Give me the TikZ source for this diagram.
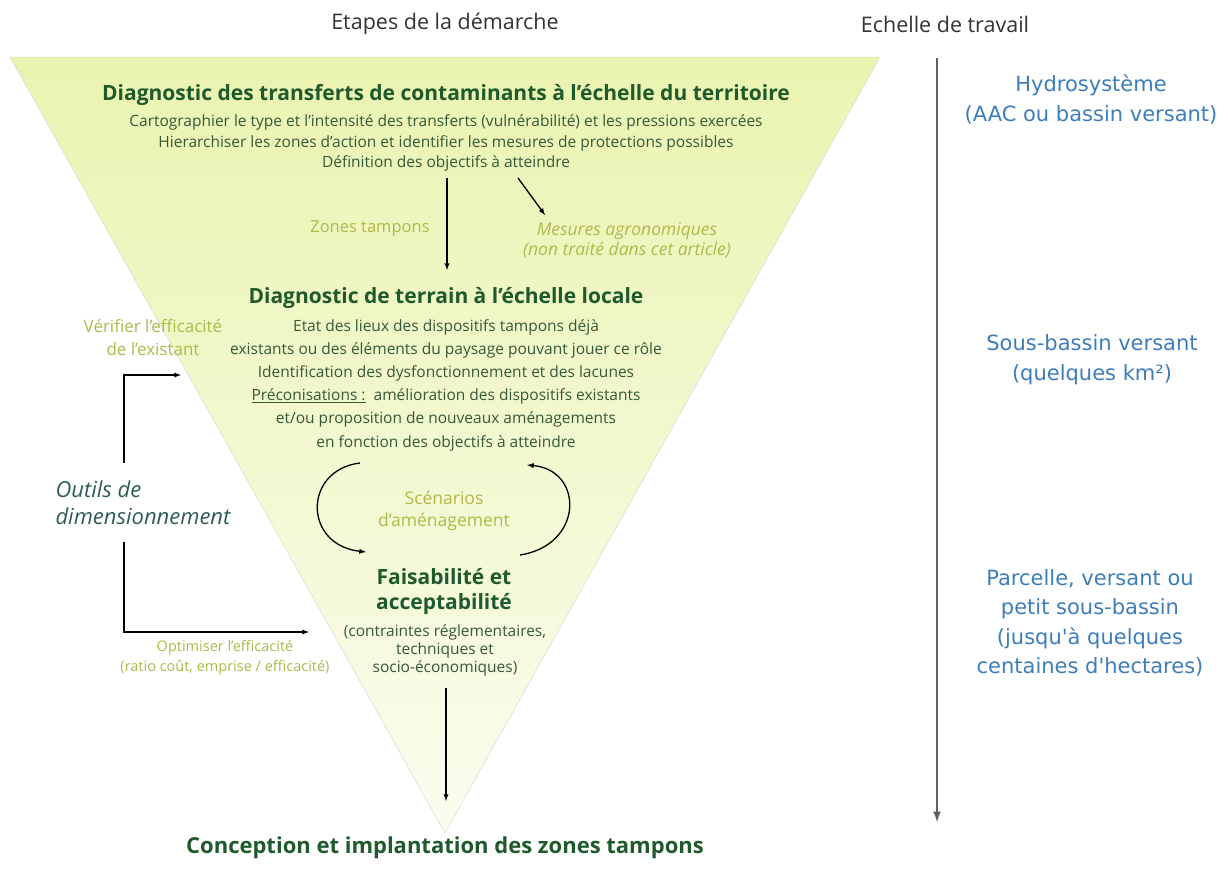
\documentclass[tikz,border=0pt]{standalone}
\usepackage{fontspec}
\setmainfont{Open Sans}
\newfontfamily\bluefont{DejaVu Sans}
\usetikzlibrary{arrows}
\definecolor{darkgreen}{HTML}{1F5A2C}
\definecolor{textgreen}{HTML}{35593A}
\definecolor{olive}{HTML}{ADBA4A}
\definecolor{tealgreen}{HTML}{2E5D55}
\definecolor{levelblue}{HTML}{3D7DBA}
\definecolor{limetop}{HTML}{EAF4B0}
\definecolor{limebottom}{HTML}{FBFCEF}
\begin{document}
\begin{tikzpicture}[x=1pt, y=-1pt,
    heading/.style={font=\fontsize{21.5}{24}\selectfont, text=black!80},
    steptitle/.style={font=\fontsize{21}{25}\selectfont\bfseries, text=darkgreen, align=center},
    body/.style={font=\fontsize{15.5}{20.5}\selectfont, text=textgreen, align=center},
    note/.style={font=\fontsize{16.5}{20}\selectfont, text=olive, align=center},
    level/.style={font=\bluefont\fontsize{21}{30}\selectfont, text=levelblue, align=center},
    arrow/.style={->, >=latex, line width=1.3pt}]
  \useasboundingbox (0,0) rectangle (1228,872);
  % inverted triangle
  \shade[top color=limetop, bottom color=limebottom, draw=gray!35]
    (10,57) -- (880,57) -- (445,833) -- cycle;
  % column headings
  \node[heading] at (445,24) (etapes) {Etapes de la démarche};
  \node[heading] at (945,24) (echelle) {Echelle de travail};
  % step 1
  \node[steptitle] at (446,95) (territoire) {Diagnostic des transferts de contaminants à l'échelle du territoire};
  \node[body] at (446,143) (carto) {Cartographier le type et l'intensité des transferts (vulnérabilité) et les pressions exercées\\
    Hierarchiser les zones d'action et identifier les mesures de protections possibles\\
    Définition des objectifs à atteindre};
  \node[note] at (370,229) (tampons) {Zones tampons};
  \node[note, font=\fontsize{17.5}{20}\selectfont\itshape] at (627,240) (mesures) {Mesures agronomiques\\(non traité dans cet article)};
  \coordinate (split) at (447,178);
  \coordinate (local) at (447,270);
  \coordinate (agro) at (518,178);
  \coordinate (agroend) at (545,215);
  \draw[arrow] (split) -- (local);
  \draw[arrow] (agro) -- (agroend);
  % step 2
  \node[steptitle] at (446,298) (terrain) {Diagnostic de terrain à l'échelle locale};
  \node[body, font=\fontsize{15.5}{23.2}\selectfont] at (446,385) (etat) {Etat des lieux des dispositifs tampons déjà\\
    existants ou des éléments du paysage pouvant jouer ce rôle\\
    Identification des dysfonctionnement et des lacunes\\
    \underline{Préconisations :}\ \ amélioration des dispositifs existants\\
    et/ou proposition de nouveaux aménagements\\
    en fonction des objectifs à atteindre};
  \node[note, font=\fontsize{17}{23}\selectfont] at (153,338) (verifier) {Vérifier l'efficacité\\de l'existant};
  % scenario loop
  \node[note, font=\fontsize{17.5}{22}\selectfont] at (444,511) (scenarios) {Scénarios\\d'aménagement};
  \coordinate (loopa) at (360,463);
  \coordinate (loopb) at (366,552);
  \coordinate (loopc) at (520,555);
  \coordinate (loopd) at (527,465);
  \draw[arrow] (loopa) .. controls (303,470) and (303,545) .. (loopb);
  \draw[arrow] (loopc) .. controls (584,545) and (584,470) .. (loopd);
  % step 3
  \node[steptitle] at (444,591) (faisa) {Faisabilité et\\acceptabilité};
  \node[body, font=\fontsize{15.5}{18}\selectfont] at (445,650) (contraintes) {(contraintes réglementaires,\\techniques et\\socio-économiques)};
  \node[note, font=\fontsize{14.5}{20}\selectfont] at (225,658) (optimiser) {Optimiser l'efficacité\\(ratio coût, emprise / efficacité)};
  % dimensioning tools
  \node[font=\fontsize{22}{27}\selectfont\itshape, text=tealgreen, align=left, anchor=west] at (52,503) (outils) {Outils de\\dimensionnement};
  \coordinate (outilsup) at (124,463);
  \coordinate (outilsdown) at (124,542);
  \coordinate (verifend) at (181,375);
  \coordinate (optimend) at (309,632);
  \draw[arrow] (outilsup) |- (verifend);
  \draw[arrow] (outilsdown) |- (optimend);
  % final step
  \coordinate (final) at (446,688);
  \coordinate (apex) at (446,801);
  \draw[arrow] (final) -- (apex);
  \node[steptitle, font=\fontsize{22}{25}\selectfont\bfseries] at (445,848) (conception) {Conception et implantation des zones tampons};
  % working scale
  \coordinate (scaletop) at (937,58);
  \coordinate (scalebottom) at (937,822);
  \draw[->, >=latex, line width=2.5pt, gray!75!black] (scaletop) -- (scalebottom);
  \node[level] at (1091,99) (hydro) {Hydrosystème\\(AAC ou bassin versant)};
  \node[level] at (1092,360) (sousbassin) {Sous-bassin versant\\(quelques km²)};
  \node[level, font=\bluefont\fontsize{21}{29.3}\selectfont] at (1090,623) (parcelle) {Parcelle, versant ou\\petit sous-bassin\\(jusqu'à quelques\\centaines d'hectares)};
\end{tikzpicture}
\end{document}
